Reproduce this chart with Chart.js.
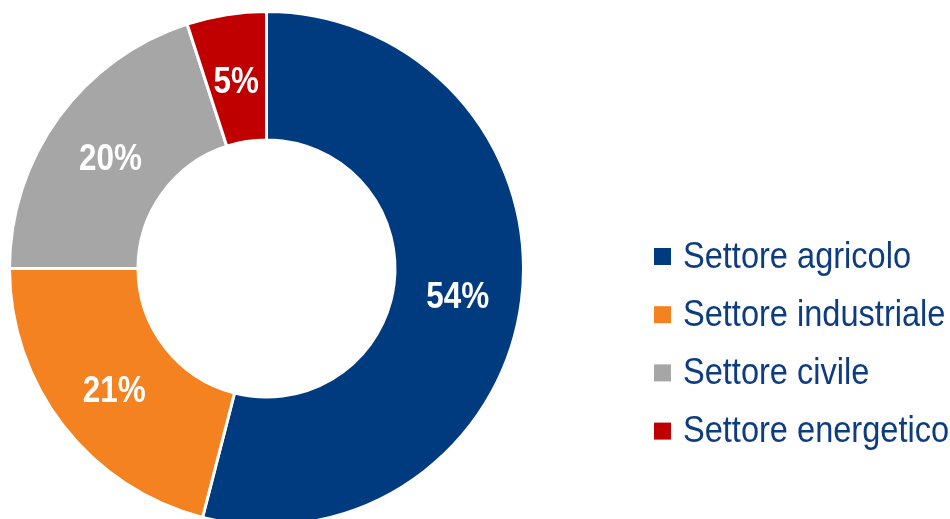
<!DOCTYPE html>
<html>
<head>
<meta charset="utf-8">
<script src="https://cdn.jsdelivr.net/npm/chart.js@4"></script>
<style>
  html, body { margin: 0; padding: 0; background: #fff; overflow: hidden; }
  #wrap { width: 950px; height: 540px; position: relative; }
</style>
</head>
<body>
<div id="wrap"><canvas id="myChart"></canvas></div>
<script>
// Sector shares (%)
const sectors = ['Settore agricolo', 'Settore industriale', 'Settore civile', 'Settore energetico'];
const shares = [54, 21, 20, 5];
const sectorColors = ['#003b80', '#f58220', '#a6a6a6', '#c00000'];

const FONT = '"Liberation Sans", Arial, sans-serif';

// narrow look: squeeze glyphs horizontally
function narrowText(ctx, text, x, y, align, squeeze) {
    ctx.save();
    ctx.translate(x, y);
    ctx.scale(squeeze, 1);
    ctx.textAlign = align;
    ctx.fillText(text, 0, 0);
    ctx.restore();
}

// Percent labels inside each slice
const sliceLabels = {
    id: 'sliceLabels',
    afterDatasetsDraw(chart) {
        const ctx = chart.ctx;
        const meta = chart.getDatasetMeta(0);
        ctx.save();
        ctx.fillStyle = '#ffffff';
        ctx.font = 'bold 37px ' + FONT;
        ctx.textBaseline = 'middle';
        meta.data.forEach((arc, i) => {
            const p = arc.tooltipPosition();
            narrowText(ctx, shares[i] + '%', p.x, p.y + 5, 'center', 0.85);
        });
        ctx.restore();
    }
};

// Legend on the right, drawn by hand
const sideLegend = {
    id: 'sideLegend',
    afterDraw(chart) {
        const ctx = chart.ctx;
        ctx.save();
        ctx.font = '37px ' + FONT;
        ctx.textBaseline = 'middle';
        sectors.forEach((name, i) => {
            const y = 256.5 + i * 58.2;
            ctx.fillStyle = sectorColors[i];
            ctx.fillRect(654, y - 8.5, 17, 17);
            ctx.fillStyle = '#0d3c80';
            narrowText(ctx, name, 683, y + 1, 'left', 0.88);
        });
        ctx.restore();
    }
};

const data = {
    labels: sectors,
    datasets: [{
        data: shares,
        backgroundColor: sectorColors,
        borderColor: '#ffffff',
        borderWidth: 3,
        borderAlign: 'center',
    }],
};

const options = {
    responsive: true,
    maintainAspectRatio: false,
    animation: false,
    cutout: '50%',
    layout: {
        padding: { left: 8, right: 425, top: 10, bottom: 13 }
    },
    plugins: {
        legend: { display: false },
        tooltip: { enabled: false },
    },
};

const ctx = document.getElementById('myChart').getContext('2d');
const myChart = new Chart(ctx, {
    type: 'doughnut',
    data: data,
    options: options,
    plugins: [sliceLabels, sideLegend],
});
</script>
</body>
</html>
